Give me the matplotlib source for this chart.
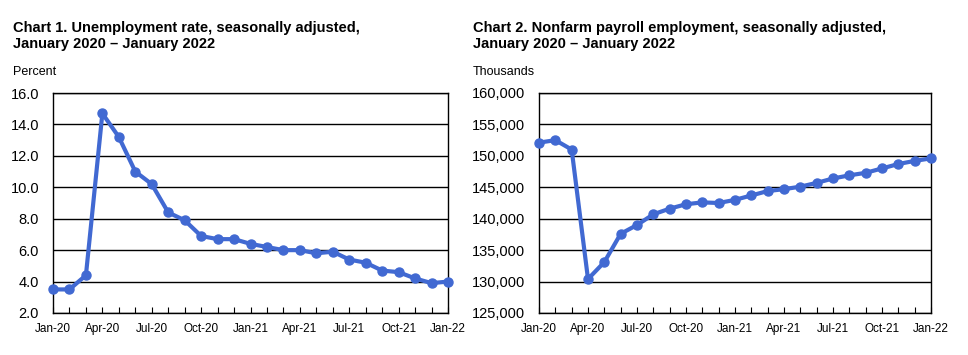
import numpy as np
import matplotlib.pyplot as plt
from matplotlib.ticker import FuncFormatter

plt.rcParams['font.family'] = ['Liberation Sans', 'DejaVu Sans']

months = ['Jan-20', 'Feb-20', 'Mar-20', 'Apr-20', 'May-20', 'Jun-20', 'Jul-20',
          'Aug-20', 'Sep-20', 'Oct-20', 'Nov-20', 'Dec-20', 'Jan-21', 'Feb-21',
          'Mar-21', 'Apr-21', 'May-21', 'Jun-21', 'Jul-21', 'Aug-21', 'Sep-21',
          'Oct-21', 'Nov-21', 'Dec-21', 'Jan-22']

# unemployment rate, percent
unemp = [3.5, 3.5, 4.4, 14.7, 13.2, 11.0, 10.2, 8.4, 7.9, 6.9, 6.7, 6.7,
         6.4, 6.2, 6.0, 6.0, 5.8, 5.9, 5.4, 5.2, 4.7, 4.6, 4.2, 3.9, 4.0]

# nonfarm payroll employment, thousands
payroll = [152100, 152500, 151000, 130400, 133100, 137600, 139000, 140700,
           141600, 142300, 142600, 142500, 143000, 143700, 144400, 144700,
           145100, 145700, 146400, 146900, 147300, 148000, 148700, 149200,
           149600]

blue = '#4169D2'

def draw(ax, y, ylim, step, fmt):
    x = np.arange(len(y))
    ax.plot(x, y, color=blue, lw=3, marker='o', ms=6.5, clip_on=False, zorder=3)
    ax.set_xlim(0, len(y) - 1)
    ax.set_ylim(*ylim)
    ax.set_yticks(np.arange(ylim[0], ylim[1] + step / 2, step))
    ax.yaxis.set_major_formatter(FuncFormatter(fmt))
    ax.grid(axis='y', color='black', lw=1)
    ax.set_axisbelow(True)
    ax.set_xticks(x[::3])
    ax.set_xticklabels(months[::3], fontsize=8.5)
    ax.set_xticks(x, minor=True)
    ax.tick_params(axis='x', which='both', direction='in', length=4, width=0.8, pad=7)
    ax.tick_params(axis='y', length=0, labelsize=10.5, pad=10)
    for s in ax.spines.values():
        s.set_color('black')
        s.set_linewidth(1)

fig = plt.figure(figsize=(9.68, 3.55), dpi=100)
ax1 = fig.add_axes([53 / 968, 1 - 313 / 355, 395 / 968, 220 / 355])
ax2 = fig.add_axes([539 / 968, 1 - 313 / 355, 392 / 968, 220 / 355])

draw(ax1, unemp, (2.0, 16.0), 2.0, lambda v, p: f'{v:.1f}')
draw(ax2, payroll, (125000, 160000), 5000, lambda v, p: f'{v:,.0f}')

fig.text(13 / 968, 1 - 21 / 355, 'Chart 1. Unemployment rate, seasonally adjusted,\nJanuary 2020 \u2013 January 2022',
         fontsize=10.5, fontweight='bold', va='top', linespacing=1.15)
fig.text(473 / 968, 1 - 21 / 355, 'Chart 2. Nonfarm payroll employment, seasonally adjusted,\nJanuary 2020 \u2013 January 2022',
         fontsize=10.5, fontweight='bold', va='top', linespacing=1.15)
fig.text(13 / 968, 1 - 72 / 355, 'Percent', fontsize=9, va='center')
fig.text(473 / 968, 1 - 72 / 355, 'Thousands', fontsize=9, va='center')

fig.savefig('out.png', dpi=100)
